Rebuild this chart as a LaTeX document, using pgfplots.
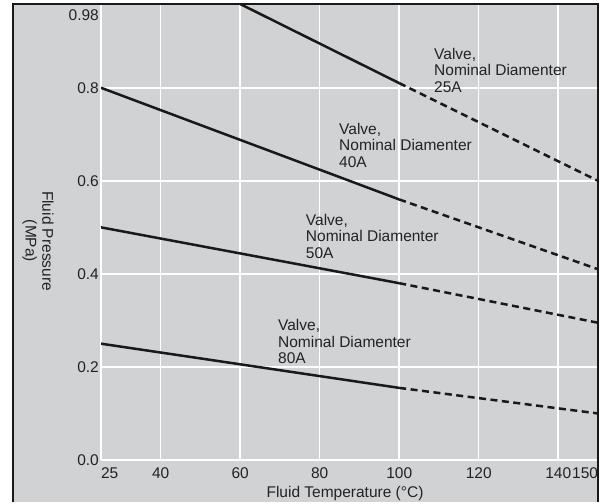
\documentclass[border=0pt]{standalone}
\usepackage{pgfplots}
\pgfplotsset{compat=1.18}
\usepackage{fontspec}
\setmainfont{Liberation Sans}
\definecolor{bg}{RGB}{209,210,212}
\definecolor{txt}{RGB}{35,35,35}
\newcommand{\lbl}{\fontsize{15.5bp}{16.6bp}\selectfont}
\begin{document}
\begin{tikzpicture}
\path (0bp,0bp) rectangle (608bp,502bp);
\fill[bg] (13bp,0bp) rectangle (598bp,498bp);
\begin{axis}[
  at={(101bp,42bp)}, anchor=south west,
  scale only axis, width=497bp, height=456bp,
  xmin=25, xmax=150, ymin=0, ymax=0.98,
  axis line style={draw=none},
  xtick={25,40,60,80,100,120,140,150},
  xticklabels={\rlap{25},40,60,80,100,120,140,\llap{150}},
  ytick={0,0.2,0.4,0.6,0.8,0.98},
  yticklabels={0.0,0.2,0.4,0.6,0.8,\smash{\raisebox{-16bp}{0.98}}},
  major tick length=0pt,
  grid=major,
  grid style={white, line width=1.5bp},
  tick label style={font=\lbl, text=txt},
  xticklabel style={inner ysep=0pt, yshift=-7bp},
  yticklabel style={inner xsep=2bp},
  /pgf/number format/assume math mode=true,
]
\addplot[black!90, line width=2.5bp] coordinates {(60,0.98) (100,0.81)};
\addplot[black!90, line width=2.5bp, dash pattern=on 7bp off 4.5bp] coordinates {(100,0.81) (150,0.60)};
\addplot[black!90, line width=2.5bp] coordinates {(25,0.80) (100,0.56)};
\addplot[black!90, line width=2.5bp, dash pattern=on 7bp off 4.5bp] coordinates {(100,0.56) (150,0.41)};
\addplot[black!90, line width=2.5bp] coordinates {(25,0.50) (100,0.38)};
\addplot[black!90, line width=2.5bp, dash pattern=on 7bp off 4.5bp] coordinates {(100,0.38) (150,0.295)};
\addplot[black!90, line width=2.5bp] coordinates {(25,0.25) (100,0.155)};
\addplot[black!90, line width=2.5bp, dash pattern=on 7bp off 4.5bp] coordinates {(100,0.155) (150,0.10)};
\node[anchor=north west, inner sep=0pt, align=left, font=\lbl, text=txt] at (axis cs:108.75,0.886) {Valve,\\Nominal Diamenter\\25A};
\node[anchor=north west, inner sep=0pt, align=left, font=\lbl, text=txt] at (axis cs:84.86,0.725) {Valve,\\Nominal Diamenter\\40A};
\node[anchor=north west, inner sep=0pt, align=left, font=\lbl, text=txt] at (axis cs:76.5,0.529) {Valve,\\Nominal Diamenter\\50A};
\node[anchor=north west, inner sep=0pt, align=left, font=\lbl, text=txt] at (axis cs:69.5,0.303) {Valve,\\Nominal Diamenter\\80A};
\end{axis}
\draw[black!90, line width=1.3bp] (13bp,0bp) -- (13bp,498bp) -- (598bp,498bp) -- (598bp,0bp);
\node[font=\lbl, text=txt, anchor=base] at (345bp,5bp) {Fluid Temperature (°C)};
\node[font=\lbl, text=txt, rotate=-90, align=center] at (38bp,261bp) {Fluid Pressure\\(MPa)};
\end{tikzpicture}
\end{document}
